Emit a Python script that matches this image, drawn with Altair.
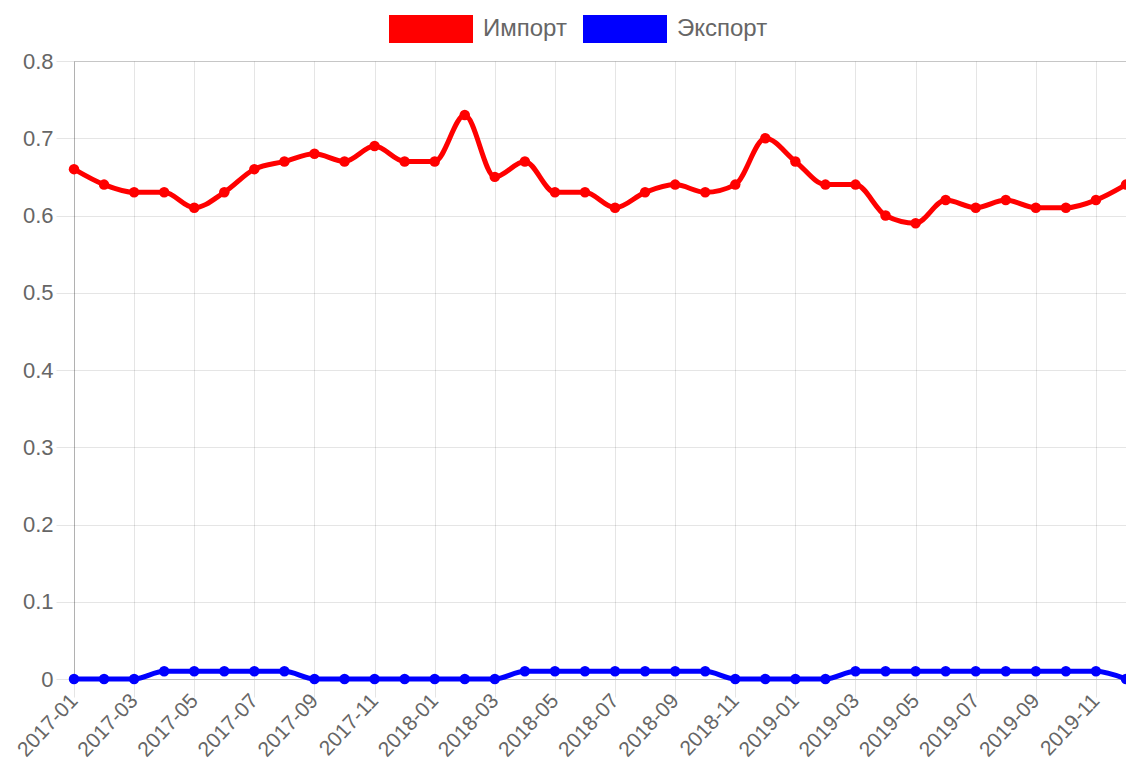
import altair as alt
import pandas as pd

months = [
    "2017-01", "2017-02", "2017-03", "2017-04", "2017-05", "2017-06",
    "2017-07", "2017-08", "2017-09", "2017-10", "2017-11", "2017-12",
    "2018-01", "2018-02", "2018-03", "2018-04", "2018-05", "2018-06",
    "2018-07", "2018-08", "2018-09", "2018-10", "2018-11", "2018-12",
    "2019-01", "2019-02", "2019-03", "2019-04", "2019-05", "2019-06",
    "2019-07", "2019-08", "2019-09", "2019-10", "2019-11", "2019-12",
]
import_vals = [
    0.66, 0.64, 0.63, 0.63, 0.61, 0.63, 0.66, 0.67, 0.68, 0.67, 0.69, 0.67,
    0.67, 0.73, 0.65, 0.67, 0.63, 0.63, 0.61, 0.63, 0.64, 0.63, 0.64, 0.70,
    0.67, 0.64, 0.64, 0.60, 0.59, 0.62, 0.61, 0.62, 0.61, 0.61, 0.62, 0.64,
]
export_vals = [
    0.00, 0.00, 0.00, 0.01, 0.01, 0.01, 0.01, 0.01, 0.00, 0.00, 0.00, 0.00,
    0.00, 0.00, 0.00, 0.01, 0.01, 0.01, 0.01, 0.01, 0.01, 0.01, 0.00, 0.00,
    0.00, 0.00, 0.01, 0.01, 0.01, 0.01, 0.01, 0.01, 0.01, 0.01, 0.01, 0.00,
]
series_names = ["Импорт", "Экспорт"]
series_colors = ["#ff0000", "#0000ff"]
x_tick_labels = [
    "2017-01", "2017-03", "2017-05", "2017-07", "2017-09", "2017-11",
    "2018-01", "2018-03", "2018-05", "2018-07", "2018-09", "2018-11",
    "2019-01", "2019-03", "2019-05", "2019-07", "2019-09", "2019-11",
]
y_ticks = [0, 0.1, 0.2, 0.3, 0.4, 0.5, 0.6, 0.7, 0.8]

rows = []
for name, vals in zip(series_names, [import_vals, export_vals]):
    for m, v in zip(months, vals):
        rows.append({"month": m, "series": name, "value": v})
df = pd.DataFrame(rows)

FONT = "Liberation Sans"
GRID = "rgba(0,0,0,0.1)"

legend = alt.Legend(
    title=None,
    orient="none",
    direction="horizontal",
    legendX=315,
    legendY=-74,
    symbolType="M-1,-0.333L1,-0.333L1,0.333L-1,0.333Z",
    symbolSize=7056,
    symbolStrokeWidth=0,
    labelFont=FONT,
    labelFontSize=24,
    labelColor="#666666",
    labelOffset=10,
    columnPadding=16,
)

color = alt.Color(
    "series:N",
    scale=alt.Scale(domain=series_names, range=series_colors),
    legend=legend,
)

x = alt.X(
    "month:O",
    sort=months,
    scale=alt.Scale(type="point", padding=0),
    axis=alt.Axis(
        title=None,
        values=x_tick_labels,
        grid=True,
        labelAngle=-47,
        labelAlign="right",
        labelBaseline="middle",
        labelPadding=0,
        labelFont=FONT,
        labelFontSize=21,
        labelColor="#666666",
        tickSize=18,
        tickColor=GRID,
        gridColor=GRID,
        domainColor="#bfbfbf",
        domainWidth=1,
    ),
)
y = alt.Y(
    "value:Q",
    scale=alt.Scale(domain=[0, 0.8], nice=False, zero=True),
    axis=alt.Axis(
        title=None,
        values=y_ticks,
        format=".1~f",
        labelFont=FONT,
        labelFontSize=22,
        labelColor="#666666",
        labelPadding=3,
        tickSize=18,
        tickColor=GRID,
        gridColor=GRID,
        domainColor=GRID,
    ),
)

base = alt.Chart(df)
lines = base.mark_line(strokeWidth=5, interpolate="monotone").encode(
    x=x, y=y, color=color, detail="series:N"
)
points = base.mark_circle(size=110, opacity=1).encode(x=x, y=y, color=color)

chart = (
    alt.layer(lines, points)
    .properties(
        width=1052,
        height=618,
        autosize=alt.AutoSizeParams(type="none"),
        padding={"left": 66, "top": 53, "right": 0, "bottom": 84},
    )
    .configure_view(strokeWidth=0, stroke="transparent")
    .configure(background="white")
)

chart.save("out.html", embed_options={"renderer": "svg", "actions": False})
